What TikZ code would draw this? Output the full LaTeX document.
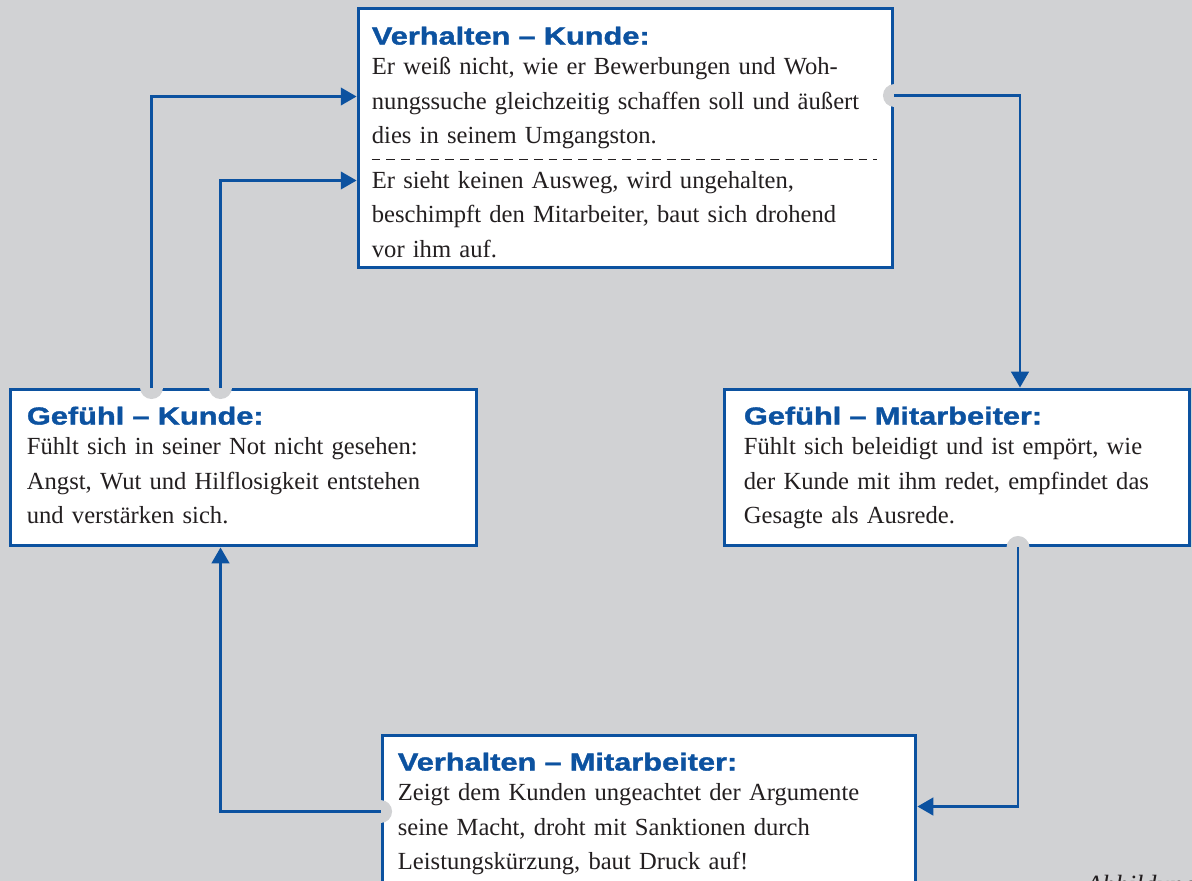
\documentclass[tikz,border=0pt]{standalone}
\usepackage{fontspec}
\setmainfont{Liberation Serif}
\newfontfamily\headfont{Liberation Sans}[FakeStretch=1.25, FakeBold=1.5]
\usetikzlibrary{arrows.meta}

\definecolor{kblue}{RGB}{12,82,160}
\definecolor{kgray}{RGB}{209,210,212}
\definecolor{ktext}{RGB}{35,31,32}

\newcommand{\boxhead}[1]{{\headfont\bfseries\color{kblue}#1}\\[-2.3pt]}

\begin{document}
\begin{tikzpicture}[x=0.02cm, y=-0.02cm,
	kbox/.style={draw=kblue, line width=1.7pt, fill=white, inner sep=0pt},
	txt/.style={anchor=base west, inner sep=0pt, text width=10cm, align=left, text=ktext, font=\fontsize{14}{19.6}\selectfont},
	link/.style={draw=kblue, line width=1.4pt, -{Triangle[length=9pt,width=10pt]}},
	notch/.style={fill=kgray},
	divider/.style={draw=ktext, thin, dash pattern=on 5pt off 3.4pt}]
	\useasboundingbox (0,0) rectangle (1192,881);
	\clip (0,0) rectangle (1192,881);
	\fill[kgray] (0,0) rectangle (1192,881);

	% boxes
	\node[kbox, minimum width=10.7cm, minimum height=5.2cm] (vk) at (625.5,138) {};
	\node[kbox, minimum width=9.34cm, minimum height=3.14cm] (gk) at (243.5,467.5) {};
	\node[kbox, minimum width=9.32cm, minimum height=3.14cm] (gm) at (957,467.5) {};
	\node[kbox, minimum width=10.68cm, minimum height=3.6cm] (vm) at (649,825) {};

	% texts
	\node[txt] (vk-text) at ([shift={(0.3cm,-0.76cm)}]vk.north west) {\boxhead{Verhalten – Kunde:}
		Er weiß nicht, wie er Bewerbungen und Woh-\\
		nungssuche gleichzeitig schaffen soll und äußert\\
		dies in seinem Umgangston.};
	\draw[divider] ([shift={(0.3cm,-3.06cm)}]vk.north west) -- ([shift={(-0.34cm,-3.06cm)}]vk.north east);
	\node[txt] (vk-text2) at ([shift={(0.3cm,-3.64cm)}]vk.north west) {Er sieht keinen Ausweg, wird ungehalten,\\
		beschimpft den Mitarbeiter, baut sich drohend\\
		vor ihm auf.};

	\node[txt] (gk-text) at ([shift={(0.36cm,-0.74cm)}]gk.north west) {\boxhead{Gefühl – Kunde:}
		Fühlt sich in seiner Not nicht gesehen:\\
		Angst, Wut und Hilflosigkeit entstehen\\
		und verstärken sich.};

	\node[txt] (gm-text) at ([shift={(0.42cm,-0.74cm)}]gm.north west) {\boxhead{Gefühl – Mitarbeiter:}
		Fühlt sich beleidigt und ist empört, wie\\
		der Kunde mit ihm redet, empfindet das\\
		Gesagte als Ausrede.};

	\node[txt] (vm-text) at ([shift={(0.34cm,-0.74cm)}]vm.north west) {\boxhead{Verhalten – Mitarbeiter:}
		Zeigt dem Kunden ungeachtet der Argumente\\
		seine Macht, droht mit Sanktionen durch\\
		Leistungskürzung, baut Druck auf!};

	% ports
	\coordinate (vk-out) at ([yshift=-1.78cm]vk.north east);
	\coordinate (gm-out) at ([xshift=1.22cm]gm.south);
	\coordinate (vm-out) at ([yshift=-1.56cm]vm.north west);
	\coordinate (gk-out1) at ([xshift=2.86cm]gk.north west);
	\coordinate (gk-out2) at ([xshift=4.24cm]gk.north west);
	\foreach \p in {vk-out, gm-out, vm-out, gk-out1, gk-out2}
		\fill[notch] (\p) circle[radius=0.23cm];

	% connectors
	\draw[link] (vk-out) -| ([xshift=1.26cm]gm.north);
	\draw[link] (gm-out) |- ([yshift=-1.46cm]vm.north east);
	\draw[link] (vm-out) -| ([xshift=4.24cm]gk.south west);
	\draw[link] (gk-out1) |- ([yshift=-1.8cm]vk.north west);
	\draw[link] (gk-out2) |- ([yshift=-3.48cm]vk.north west);

	\node[anchor=base west, inner sep=0pt, font=\fontsize{15}{18}\selectfont\itshape, text=ktext] (abb) at (1086,893) {Abbildung 7};
\end{tikzpicture}
\end{document}
